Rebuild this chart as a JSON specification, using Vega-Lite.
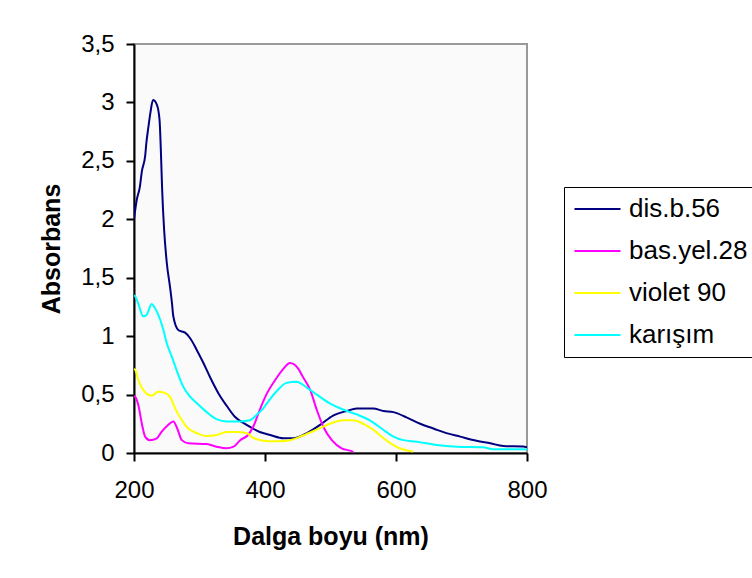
{
  "$schema": "https://vega.github.io/schema/vega-lite/v6.json",
  "width": 393,
  "height": 409,
  "autosize": "none",
  "padding": {"left": 134, "top": 44, "right": 225, "bottom": 125},
  "background": "white",
  "config": {
    "font": "Liberation Sans",
    "view": {"fill": "#FAFAFA", "stroke": "#999999", "strokeWidth": 2}
  },
  "data": {
    "values": [
      {"nm": 200, "a": 2.0, "s": "dis.b.56"},
      {"nm": 204, "a": 2.16, "s": "dis.b.56"},
      {"nm": 209, "a": 2.28, "s": "dis.b.56"},
      {"nm": 212, "a": 2.41, "s": "dis.b.56"},
      {"nm": 217, "a": 2.54, "s": "dis.b.56"},
      {"nm": 219, "a": 2.66, "s": "dis.b.56"},
      {"nm": 222, "a": 2.79, "s": "dis.b.56"},
      {"nm": 225, "a": 2.91, "s": "dis.b.56"},
      {"nm": 229, "a": 3.02, "s": "dis.b.56"},
      {"nm": 235, "a": 2.98, "s": "dis.b.56"},
      {"nm": 239, "a": 2.85, "s": "dis.b.56"},
      {"nm": 241, "a": 2.59, "s": "dis.b.56"},
      {"nm": 243, "a": 2.25, "s": "dis.b.56"},
      {"nm": 246, "a": 1.91, "s": "dis.b.56"},
      {"nm": 250, "a": 1.63, "s": "dis.b.56"},
      {"nm": 255, "a": 1.42, "s": "dis.b.56"},
      {"nm": 258, "a": 1.28, "s": "dis.b.56"},
      {"nm": 260, "a": 1.17, "s": "dis.b.56"},
      {"nm": 268, "a": 1.05, "s": "dis.b.56"},
      {"nm": 278, "a": 1.03, "s": "dis.b.56"},
      {"nm": 286, "a": 0.98, "s": "dis.b.56"},
      {"nm": 296, "a": 0.88, "s": "dis.b.56"},
      {"nm": 306, "a": 0.77, "s": "dis.b.56"},
      {"nm": 316, "a": 0.65, "s": "dis.b.56"},
      {"nm": 329, "a": 0.51, "s": "dis.b.56"},
      {"nm": 342, "a": 0.40, "s": "dis.b.56"},
      {"nm": 354, "a": 0.31, "s": "dis.b.56"},
      {"nm": 372, "a": 0.24, "s": "dis.b.56"},
      {"nm": 392, "a": 0.18, "s": "dis.b.56"},
      {"nm": 408, "a": 0.154, "s": "dis.b.56"},
      {"nm": 428, "a": 0.126, "s": "dis.b.56"},
      {"nm": 443, "a": 0.126, "s": "dis.b.56"},
      {"nm": 464, "a": 0.17, "s": "dis.b.56"},
      {"nm": 484, "a": 0.24, "s": "dis.b.56"},
      {"nm": 504, "a": 0.32, "s": "dis.b.56"},
      {"nm": 525, "a": 0.36, "s": "dis.b.56"},
      {"nm": 540, "a": 0.38, "s": "dis.b.56"},
      {"nm": 565, "a": 0.38, "s": "dis.b.56"},
      {"nm": 581, "a": 0.36, "s": "dis.b.56"},
      {"nm": 596, "a": 0.35, "s": "dis.b.56"},
      {"nm": 616, "a": 0.305, "s": "dis.b.56"},
      {"nm": 637, "a": 0.25, "s": "dis.b.56"},
      {"nm": 657, "a": 0.21, "s": "dis.b.56"},
      {"nm": 677, "a": 0.17, "s": "dis.b.56"},
      {"nm": 698, "a": 0.14, "s": "dis.b.56"},
      {"nm": 723, "a": 0.105, "s": "dis.b.56"},
      {"nm": 744, "a": 0.083, "s": "dis.b.56"},
      {"nm": 764, "a": 0.06, "s": "dis.b.56"},
      {"nm": 794, "a": 0.055, "s": "dis.b.56"},
      {"nm": 800, "a": 0.05, "s": "dis.b.56"},

      {"nm": 200, "a": 0.49, "s": "bas.yel.28"},
      {"nm": 202, "a": 0.48, "s": "bas.yel.28"},
      {"nm": 207, "a": 0.40, "s": "bas.yel.28"},
      {"nm": 212, "a": 0.25, "s": "bas.yel.28"},
      {"nm": 217, "a": 0.14, "s": "bas.yel.28"},
      {"nm": 224, "a": 0.11, "s": "bas.yel.28"},
      {"nm": 235, "a": 0.126, "s": "bas.yel.28"},
      {"nm": 242, "a": 0.18, "s": "bas.yel.28"},
      {"nm": 252, "a": 0.24, "s": "bas.yel.28"},
      {"nm": 260, "a": 0.27, "s": "bas.yel.28"},
      {"nm": 266, "a": 0.21, "s": "bas.yel.28"},
      {"nm": 273, "a": 0.11, "s": "bas.yel.28"},
      {"nm": 283, "a": 0.083, "s": "bas.yel.28"},
      {"nm": 311, "a": 0.077, "s": "bas.yel.28"},
      {"nm": 326, "a": 0.054, "s": "bas.yel.28"},
      {"nm": 341, "a": 0.04, "s": "bas.yel.28"},
      {"nm": 352, "a": 0.054, "s": "bas.yel.28"},
      {"nm": 362, "a": 0.11, "s": "bas.yel.28"},
      {"nm": 374, "a": 0.154, "s": "bas.yel.28"},
      {"nm": 382, "a": 0.225, "s": "bas.yel.28"},
      {"nm": 392, "a": 0.37, "s": "bas.yel.28"},
      {"nm": 403, "a": 0.51, "s": "bas.yel.28"},
      {"nm": 415, "a": 0.62, "s": "bas.yel.28"},
      {"nm": 428, "a": 0.72, "s": "bas.yel.28"},
      {"nm": 438, "a": 0.77, "s": "bas.yel.28"},
      {"nm": 451, "a": 0.72, "s": "bas.yel.28"},
      {"nm": 458, "a": 0.65, "s": "bas.yel.28"},
      {"nm": 469, "a": 0.54, "s": "bas.yel.28"},
      {"nm": 479, "a": 0.37, "s": "bas.yel.28"},
      {"nm": 489, "a": 0.225, "s": "bas.yel.28"},
      {"nm": 502, "a": 0.11, "s": "bas.yel.28"},
      {"nm": 517, "a": 0.04, "s": "bas.yel.28"},
      {"nm": 530, "a": 0.02, "s": "bas.yel.28"},
      {"nm": 535, "a": 0.01, "s": "bas.yel.28"},

      {"nm": 200, "a": 0.72, "s": "violet 90"},
      {"nm": 202, "a": 0.71, "s": "violet 90"},
      {"nm": 207, "a": 0.62, "s": "violet 90"},
      {"nm": 214, "a": 0.54, "s": "violet 90"},
      {"nm": 227, "a": 0.49, "s": "violet 90"},
      {"nm": 237, "a": 0.525, "s": "violet 90"},
      {"nm": 247, "a": 0.515, "s": "violet 90"},
      {"nm": 255, "a": 0.48, "s": "violet 90"},
      {"nm": 263, "a": 0.38, "s": "violet 90"},
      {"nm": 273, "a": 0.28, "s": "violet 90"},
      {"nm": 283, "a": 0.21, "s": "violet 90"},
      {"nm": 296, "a": 0.17, "s": "violet 90"},
      {"nm": 311, "a": 0.145, "s": "violet 90"},
      {"nm": 326, "a": 0.154, "s": "violet 90"},
      {"nm": 341, "a": 0.18, "s": "violet 90"},
      {"nm": 357, "a": 0.18, "s": "violet 90"},
      {"nm": 372, "a": 0.17, "s": "violet 90"},
      {"nm": 382, "a": 0.13, "s": "violet 90"},
      {"nm": 397, "a": 0.105, "s": "violet 90"},
      {"nm": 418, "a": 0.10, "s": "violet 90"},
      {"nm": 438, "a": 0.11, "s": "violet 90"},
      {"nm": 458, "a": 0.15, "s": "violet 90"},
      {"nm": 479, "a": 0.20, "s": "violet 90"},
      {"nm": 499, "a": 0.25, "s": "violet 90"},
      {"nm": 519, "a": 0.28, "s": "violet 90"},
      {"nm": 535, "a": 0.28, "s": "violet 90"},
      {"nm": 550, "a": 0.25, "s": "violet 90"},
      {"nm": 565, "a": 0.20, "s": "violet 90"},
      {"nm": 581, "a": 0.126, "s": "violet 90"},
      {"nm": 596, "a": 0.068, "s": "violet 90"},
      {"nm": 611, "a": 0.03, "s": "violet 90"},
      {"nm": 626, "a": 0.012, "s": "violet 90"},

      {"nm": 200, "a": 1.35, "s": "karışım"},
      {"nm": 202, "a": 1.34, "s": "karışım"},
      {"nm": 207, "a": 1.27, "s": "karışım"},
      {"nm": 214, "a": 1.17, "s": "karışım"},
      {"nm": 219, "a": 1.18, "s": "karışım"},
      {"nm": 227, "a": 1.275, "s": "karışım"},
      {"nm": 232, "a": 1.24, "s": "karışım"},
      {"nm": 240, "a": 1.14, "s": "karışım"},
      {"nm": 245, "a": 1.05, "s": "karışım"},
      {"nm": 250, "a": 0.94, "s": "karışım"},
      {"nm": 258, "a": 0.82, "s": "karışım"},
      {"nm": 265, "a": 0.71, "s": "karışım"},
      {"nm": 275, "a": 0.57, "s": "karışım"},
      {"nm": 283, "a": 0.50, "s": "karışım"},
      {"nm": 296, "a": 0.425, "s": "karışım"},
      {"nm": 311, "a": 0.35, "s": "karışım"},
      {"nm": 326, "a": 0.29, "s": "karışım"},
      {"nm": 342, "a": 0.27, "s": "karışım"},
      {"nm": 362, "a": 0.27, "s": "karışım"},
      {"nm": 377, "a": 0.28, "s": "karışım"},
      {"nm": 387, "a": 0.325, "s": "karışım"},
      {"nm": 397, "a": 0.38, "s": "karışım"},
      {"nm": 403, "a": 0.425, "s": "karışım"},
      {"nm": 418, "a": 0.53, "s": "karışım"},
      {"nm": 433, "a": 0.60, "s": "karışım"},
      {"nm": 448, "a": 0.61, "s": "karışım"},
      {"nm": 464, "a": 0.56, "s": "karışım"},
      {"nm": 479, "a": 0.50, "s": "karışım"},
      {"nm": 499, "a": 0.425, "s": "karışım"},
      {"nm": 520, "a": 0.37, "s": "karışım"},
      {"nm": 540, "a": 0.33, "s": "karışım"},
      {"nm": 560, "a": 0.28, "s": "karışım"},
      {"nm": 581, "a": 0.197, "s": "karışım"},
      {"nm": 596, "a": 0.14, "s": "karışım"},
      {"nm": 611, "a": 0.11, "s": "karışım"},
      {"nm": 632, "a": 0.097, "s": "karışım"},
      {"nm": 662, "a": 0.068, "s": "karışım"},
      {"nm": 693, "a": 0.054, "s": "karışım"},
      {"nm": 733, "a": 0.049, "s": "karışım"},
      {"nm": 748, "a": 0.032, "s": "karışım"},
      {"nm": 794, "a": 0.032, "s": "karışım"},
      {"nm": 800, "a": 0.03, "s": "karışım"}
    ]
  },
  "mark": {"type": "line", "strokeWidth": 2, "interpolate": "monotone", "clip": true},
  "encoding": {
    "x": {
      "field": "nm",
      "type": "quantitative",
      "scale": {"domain": [200, 800], "nice": false, "zero": false},
      "axis": {
        "values": [200, 400, 600, 800],
        "title": "Dalga boyu (nm)",
        "grid": false,
        "domainColor": "black",
        "domainWidth": 2,
        "tickColor": "black",
        "tickWidth": 2,
        "tickSize": 8,
        "labelFontSize": 24,
        "labelColor": "black",
        "labelPadding": 17,
        "labelFlush": false,
        "titleFontSize": 25,
        "titleFontWeight": "bold",
        "titleColor": "black",
        "titlePadding": 22
      }
    },
    "y": {
      "field": "a",
      "type": "quantitative",
      "scale": {"domain": [0, 3.5], "nice": false},
      "axis": {
        "values": [0, 0.5, 1, 1.5, 2, 2.5, 3, 3.5],
        "format": "~g",
        "labelExpr": "replace(datum.label, '.', ',')",
        "title": "Absorbans",
        "grid": false,
        "domainColor": "black",
        "domainWidth": 2,
        "tickColor": "black",
        "tickWidth": 2,
        "tickSize": 8,
        "labelFontSize": 24,
        "labelColor": "black",
        "labelPadding": 12,
        "labelFlush": false,
        "titleFontSize": 25,
        "titleFontWeight": "bold",
        "titleColor": "black",
        "titlePadding": 16
      }
    },
    "color": {
      "field": "s",
      "type": "nominal",
      "scale": {
        "domain": ["dis.b.56", "bas.yel.28", "violet 90", "karışım"],
        "range": ["#000080", "#FF00FF", "#FFFF00", "#00FFFF"]
      },
      "legend": {
        "title": null,
        "orient": "none",
        "legendX": 430,
        "legendY": 143,
        "padding": 9,
        "fillColor": "white",
        "strokeColor": "black",
        "symbolType": "M-1,0H3",
        "symbolSize": 529,
        "symbolStrokeWidth": 2,
        "labelOffset": 30,
        "labelFontSize": 26,
        "labelColor": "black",
        "labelLimit": 400,
        "rowPadding": 16
      }
    }
  }
}
